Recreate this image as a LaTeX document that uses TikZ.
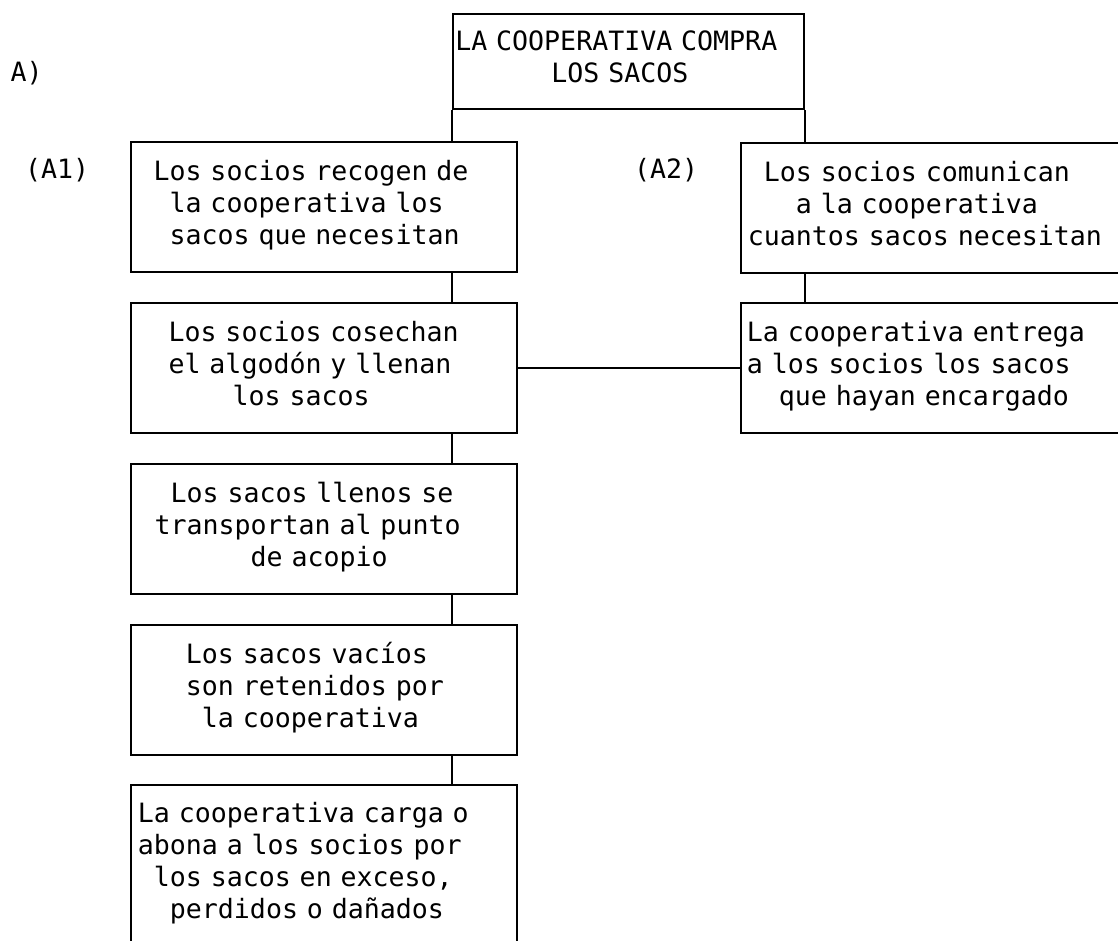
\documentclass[tikz,border=0pt]{standalone}
\usepackage{fontspec}
\newfontfamily\mono{DejaVu Sans Mono}
\newlength\cw
\setlength\cw{16.013pt}
\newcommand\monosize{\mono\fontsize{26.6pt}{32pt}\selectfont
  \spaceskip=16.013pt\relax\xspaceskip=16.013pt\relax}
\newcommand\tstrut{\rule[-9.5pt]{0pt}{29.5pt}}
\newcommand\tline[2]{\hspace*{\dimexpr#1pt+#2\cw\relax}\tstrut}
\tikzset{
  box/.style={draw, line width=2.2pt, anchor=north west, inner sep=0pt, align=left,
    font=\monosize},
  lbl/.style={anchor=base west, inner sep=0pt, font=\monosize},
  link/.style={line width=2.2pt}
}
\begin{document}
\begin{tikzpicture}[x=1pt,y=-1pt]
\useasboundingbox (0,0) rectangle (1118,940);
\fill[white] (0,0) rectangle (1118,940);
\clip (0,0) rectangle (1118,940);

\node[box, text width=351pt, minimum height=95pt] (T) at (452,13)
  {\tline{2.2}{0}LA COOPERATIVA COMPRA\\ \tline{2.2}{6}LOS SACOS};

\node[box, text width=386pt, minimum height=130pt] (A1) at (130,141)
  {\tline{22.5}{0}Los socios recogen de\\ \tline{22.5}{1}la cooperativa los\\ \tline{22.5}{1}sacos que necesitan};
\node[box, text width=386pt, minimum height=130pt] (B1) at (130,302)
  {\tline{37.5}{0}Los socios cosechan\\ \tline{37.5}{0}el algodón y llenan\\ \tline{37.5}{4}los sacos};
\node[box, text width=386pt, minimum height=130pt] (C1) at (130,463)
  {\tline{23.5}{1}Los sacos llenos se\\ \tline{23.5}{0}transportan al punto\\ \tline{23.5}{6}de acopio};
\node[box, text width=386pt, minimum height=130pt] (D1) at (130,624)
  {\tline{54.8}{0}Los sacos vacíos\\ \tline{54.8}{0}son retenidos por\\ \tline{54.8}{1}la cooperativa};
\node[box, text width=386pt, minimum height=160pt] (E1) at (130,784)
  {\tline{6.8}{0}La cooperativa carga o\\ \tline{6.8}{0}abona a los socios por\\ \tline{6.8}{1}los sacos en exceso,\\ \tline{6.8}{2}perdidos o dañados};

\node[box, text width=382pt, minimum height=130pt] (A2) at (740,142)
  {\tline{6.8}{1}Los socios comunican\\ \tline{6.8}{3}a la cooperativa\\ \tline{6.8}{0}cuantos sacos necesitan};
\node[box, text width=382pt, minimum height=130pt] (B2) at (740,302)
  {\tline{5.8}{0}La cooperativa entrega\\ \tline{5.8}{0}a los socios los sacos\\ \tline{5.8}{2}que hayan encargado};

\node[lbl] (LA) at (10.5,81) {A)};
\node[lbl] (LA1) at (25,178) {(A1)};
\node[lbl] (LA2) at (634,178) {(A2)};

\draw[link] (T.south west) -- (T.south west |- A1.north);
\draw[link] (A1.south -| T.west) -- (B1.north -| T.west);
\draw[link] (B1.south -| T.west) -- (C1.north -| T.west);
\draw[link] (C1.south -| T.west) -- (D1.north -| T.west);
\draw[link] (D1.south -| T.west) -- (E1.north -| T.west);
\draw[link] (T.south east) -- (T.south east |- A2.north);
\draw[link] (A2.south -| T.east) -- (B2.north -| T.east);
\draw[link] (B1.east) -- (B2.west);
\end{tikzpicture}
\end{document}
